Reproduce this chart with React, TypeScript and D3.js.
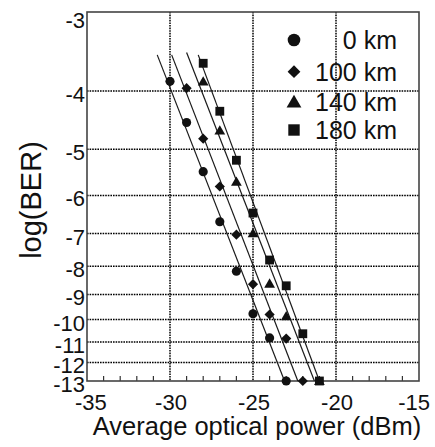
import * as d3 from 'd3';
import { useEffect, useRef } from "react";

// x ticks and y ticks
const xTicks = [-35, -30, -25, -20, -15];
const yTicks = [-3, -4, -5, -6, -7, -8, -9, -10, -11, -12, -13];

// measured points, power (dBm) vs log(BER)
const power0 = [-30, -29, -28, -27, -26, -25, -24, -23];
const ber0 = [-3.86, -4.51, -5.46, -6.67, -8.17, -9.76, -10.81, -13];
const power100 = [-29, -28, -27, -26, -25, -24, -23, -22];
const ber100 = [-3.96, -4.8, -5.79, -7.03, -8.62, -9.79, -10.84, -13];
const power140 = [-28, -27, -26, -25, -24, -23, -21];
const ber140 = [-3.86, -4.65, -5.68, -6.99, -8.6, -9.86, -13];
const power180 = [-28, -27, -26, -25, -24, -23, -22, -21];
const ber180 = [-3.61, -4.32, -5.22, -6.44, -7.8, -8.68, -10.62, -13];

// fitted lines: [start power, start logBER, end power, end logBER]
const fit0 = [-30.77, -3.5, -23.1, -13];
const fit100 = [-29.9, -3.5, -22.3, -13];
const fit140 = [-29.0, -3.47, -21.3, -13];
const fit180 = [-28.3, -3.5, -21.0, -13];

const legendNames = ["0 km", "100 km", "140 km", "180 km"];

// inverse normal cdf (Acklam), lower tail only
function normInv(p) {
    const c = [-7.784894002430293e-03, -3.223964580411365e-01, -2.400758277161838e+00, -2.549671664286197e+00, 4.374664141464968e+00, 2.938163982698783e+00];
    const d = [7.784695709041462e-03, 3.224671290700398e-01, 2.445134137142996e+00, 3.754408661907416e+00];
    const q = Math.sqrt(-2 * Math.log(p));
    return (((((c[0] * q + c[1]) * q + c[2]) * q + c[3]) * q + c[4]) * q + c[5]) /
        ((((d[0] * q + d[1]) * q + d[2]) * q + d[3]) * q + 1);
}
// Q factor for a log10(BER)
const qOf = (logBer) => -normInv(Math.pow(10, logBer));

const App = () => {
    const svgRef = useRef(null);
    const width = 435;
    const height = 447;
    const margin = { top: 12, left: 87, right: 16, bottom: 66 };

    useEffect(() => {
        const svg = d3.select(svgRef.current);
        svg.selectAll('*').remove();

        const font = "'Liberation Sans', Arial, sans-serif";
        const x = d3.scaleLinear().domain([-35, -15]).range([margin.left, width - margin.right]);
        const yq = d3.scaleLog().domain([qOf(-3), qOf(-13)]).range([margin.top, height - margin.bottom]);
        const y = (v) => yq(qOf(v));
        const x0 = margin.left, x1 = width - margin.right;
        const y0 = margin.top, y1 = height - margin.bottom;

        // dotted grid
        const grid = svg.append('g')
            .attr('stroke', '#000')
            .attr('stroke-width', 1.5)
            .attr('stroke-dasharray', '1.6,1');
        yTicks.slice(1, -1).forEach(t => {
            grid.append('line').attr('x1', x0).attr('x2', x1).attr('y1', y(t)).attr('y2', y(t));
        });
        xTicks.slice(1, -1).forEach(t => {
            grid.append('line').attr('x1', x(t)).attr('x2', x(t)).attr('y1', y0).attr('y2', y1);
        });

        // minor ticks on bottom axis
        for (let p = -34; p <= -16; p++) {
            if (p % 5 === 0) continue;
            svg.append('line')
                .attr('x1', x(p)).attr('x2', x(p))
                .attr('y1', y1).attr('y2', y1 - 5)
                .attr('stroke', '#333').attr('stroke-width', 1.2);
        }

        // frame
        svg.append('rect')
            .attr('x', x0).attr('y', y0)
            .attr('width', x1 - x0).attr('height', y1 - y0)
            .attr('fill', 'none')
            .attr('stroke', '#444')
            .attr('stroke-width', 1.6);

        // tick labels
        yTicks.forEach((t, i) => {
            svg.append('text')
                .attr('x', 85)
                .attr('y', y(t) + (i === 0 ? 16 : 11))
                .attr('text-anchor', 'end')
                .attr('font-family', font)
                .attr('font-size', 22)
                .attr('fill', '#111')
                .text(t);
        });
        xTicks.forEach((t, i) => {
            let anchor = 'middle', dx = 1;
            if (i === 0) { anchor = 'start'; dx = -12; }
            if (i === xTicks.length - 1) { anchor = 'end'; dx = 11; }
            svg.append('text')
                .attr('x', x(t) + dx)
                .attr('y', 410)
                .attr('text-anchor', anchor)
                .attr('font-family', font)
                .attr('font-size', 22)
                .attr('fill', '#111')
                .text(t);
        });

        // axis titles
        svg.append('text')
            .attr('x', 257)
            .attr('y', 435)
            .attr('text-anchor', 'middle')
            .attr('font-family', font)
            .attr('font-size', 25.5)
            .attr('fill', '#111')
            .text('Average optical power (dBm)');
        svg.append('text')
            .attr('transform', 'translate(41,200) rotate(-90)')
            .attr('text-anchor', 'middle')
            .attr('font-family', font)
            .attr('font-size', 29)
            .attr('fill', '#111')
            .text('log(BER)');

        // fitted lines
        [fit0, fit100, fit140, fit180].forEach(f => {
            svg.append('line')
                .attr('x1', x(f[0])).attr('y1', y(f[1]))
                .attr('x2', x(f[2])).attr('y2', y(f[3]))
                .attr('stroke', '#1a1a1a')
                .attr('stroke-width', 1.2);
        });

        // markers
        const shapes = [
            d3.symbol(d3.symbolCircle, 66),
            d3.symbol(d3.symbolSquare, 52),
            d3.symbol(d3.symbolTriangle, 50),
            d3.symbol(d3.symbolSquare, 78),
        ];
        const bigShapes = [
            d3.symbol(d3.symbolCircle, 125),
            d3.symbol(d3.symbolSquare, 82),
            d3.symbol(d3.symbolTriangle, 95),
            d3.symbol(d3.symbolSquare, 130),
        ];
        const series = [[power0, ber0], [power100, ber100], [power140, ber140], [power180, ber180]];
        series.forEach((s, k) => {
            for (let i = 0; i < s[0].length; i++) {
                const px = x(s[0][i]);
                const py = y(s[1][i]) + (k === 2 ? 1 : 0);
                svg.append('path')
                    .attr('d', shapes[k]())
                    .attr('transform', `translate(${px},${py})` + (k === 1 ? ' rotate(45)' : ''))
                    .attr('fill', '#111');
            }
        });

        // legend
        const legendY = [40, 71.7, 101.7, 130];
        legendNames.forEach((name, k) => {
            svg.append('path')
                .attr('d', bigShapes[k]())
                .attr('transform', `translate(294,${legendY[k] + (k === 2 ? 1.5 : 0)})` + (k === 1 ? ' rotate(45)' : ''))
                .attr('fill', '#111');
            svg.append('text')
                .attr('x', 397)
                .attr('y', legendY[k] + 9)
                .attr('text-anchor', 'end')
                .attr('font-family', font)
                .attr('font-size', 25)
                .attr('fill', '#111')
                .text(name);
        });
    });

    return (
        <svg ref={svgRef} width={width} height={height}
            style={{ position: 'absolute', left: 0, top: 0, background: 'white' }} />
    );
}

export default App;
